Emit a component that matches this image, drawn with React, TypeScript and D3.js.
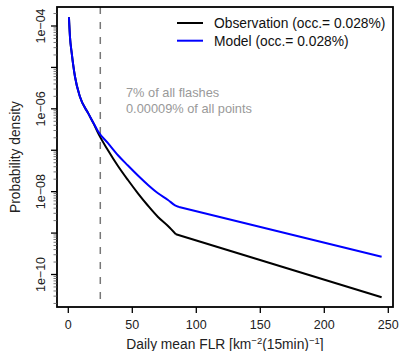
import React from "react";
import * as d3 from "d3";

const obsX = [0.5, 1.3, 2.7, 5.2, 9.1, 15.6, 20.0, 23.2, 31.0, 38.8, 46.6, 54.4, 62.3, 70.1, 77.9, 84.1, 244.8];
const obsY = [1.62e-4, 5.5e-5, 2.19e-5, 6.03e-6, 1.95e-6, 7.76e-7, 4.27e-7, 2.63e-7, 1.0e-7, 4.17e-8, 1.91e-8, 9.12e-9, 4.57e-9, 2.45e-9, 1.48e-9, 9.33e-10, 2.82e-11];

const modX = [0.5, 1.3, 2.7, 5.2, 9.1, 15.6, 20.0, 23.2, 31.0, 38.8, 46.6, 54.4, 62.3, 70.1, 77.9, 83.4, 86.5, 244.8];
const modY = [1.62e-4, 5.5e-5, 2.19e-5, 6.03e-6, 1.95e-6, 7.76e-7, 4.37e-7, 2.88e-7, 1.48e-7, 7.59e-8, 4.27e-8, 2.45e-8, 1.45e-8, 9.12e-9, 6.31e-9, 4.68e-9, 4.27e-9, 2.69e-10];

const xTicks = [0, 50, 100, 150, 200, 250];
const yMajor = [1e-4, 1e-5, 1e-6, 1e-7, 1e-8, 1e-9, 1e-10];
const yLabeled = [1e-4, 1e-6, 1e-8, 1e-10];
const cutoff = 25;

const legendLabels = ["Observation (occ.= 0.028%)", "Model (occ.= 0.028%)"];
const legendColors = ["#000000", "#0000ff"];
const noteLines = ["7% of all flashes", "0.00009% of all points"];

const W = 400, H = 351;
const L = 57, R = 393, T = 7, B = 307;

export default function App() {
  const x = d3.scaleLinear().domain([0, 250]).range([68.3, 388.3]);
  const y = d3.scaleLog().domain([1e-4, 1e-10]).range([26, 274.5]);

  const kneeIdx = (xs: number[]) => xs.length - 2;
  const headLine = d3.line<[number, number]>().x(d => x(d[0])).y(d => y(d[1])).curve(d3.curveMonotoneX);
  const tailLine = d3.line<[number, number]>().x(d => x(d[0])).y(d => y(d[1]));

  const series = [
    { xs: obsX, ys: obsY, color: legendColors[0] },
    { xs: modX, ys: modY, color: legendColors[1] },
  ];

  const minor: number[] = [];
  for (let e = -11; e <= -4; e++) {
    for (let m = 2; m <= 9; m++) {
      const v = m * Math.pow(10, e);
      const py = y(v);
      if (py >= T && py <= B) minor.push(v);
    }
  }

  const fam = "'Liberation Sans', Arial, Helvetica, sans-serif";
  const fmt = (v: number) => {
    const e = Math.round(Math.log10(v));
    return "1e\u2212" + String(-e).padStart(2, "0");
  };

  return (
    <svg width={W} height={H} style={{ position: "absolute", left: 0, top: 0, background: "#fff" }} fontFamily={fam}>
      <rect x={0} y={0} width={W} height={H} fill="#fff" />
      <line x1={x(cutoff)} x2={x(cutoff)} y1={T} y2={B} stroke="#777" strokeWidth={1.5} strokeDasharray="7,8" />
      {series.map((s, i) => {
        const pts: [number, number][] = s.xs.map((v, j) => [v, s.ys[j]]);
        const k = kneeIdx(s.xs);
        return (
          <g key={i}>
            <path d={headLine(pts.slice(0, k + 1)) || ""} fill="none" stroke={s.color} strokeWidth={2} strokeLinejoin="round" />
            <path d={tailLine(pts.slice(k)) || ""} fill="none" stroke={s.color} strokeWidth={2} strokeLinejoin="round" />
          </g>
        );
      })}
      <rect x={L} y={T} width={R - L} height={B - T} fill="none" stroke="#000" strokeWidth={1.8} />
      {xTicks.map(t => (
        <g key={t}>
          <line x1={x(t)} x2={x(t)} y1={B} y2={B + 6} stroke="#000" strokeWidth={1.3} />
          <text x={x(t)} y={328.5} textAnchor="middle" fontSize={12.5} fill="#222">{t}</text>
        </g>
      ))}
      {yMajor.map(v => (
        <line key={v} x1={L - 6} x2={L} y1={y(v)} y2={y(v)} stroke="#000" strokeWidth={1.3} />
      ))}
      {minor.map(v => (
        <line key={"m" + v} x1={L - 3.5} x2={L} y1={y(v)} y2={y(v)} stroke="#555" strokeWidth={0.8} />
      ))}
      {yLabeled.map(v => (
        <text key={"l" + v} transform={`translate(44.5,${y(v)}) rotate(-90)`} textAnchor="middle" fontSize={12.5} fill="#222">{fmt(v)}</text>
      ))}
      <text transform={`translate(19.5,157) rotate(-90)`} textAnchor="middle" fontSize={13.8} fill="#222">Probability density</text>
      <text x={225} y={348.5} textAnchor="middle" fontSize={13.8} fill="#222">
        Daily mean FLR [km
        <tspan dy={-5} fontSize={9.5}>{"\u22122"}</tspan>
        <tspan dy={5}>(15min)</tspan>
        <tspan dy={-5} fontSize={9.5}>{"\u22121"}</tspan>
        <tspan dy={5}>]</tspan>
      </text>
      {legendLabels.map((lab, i) => (
        <g key={lab}>
          <line x1={177} x2={203} y1={23 + i * 17.7} y2={23 + i * 17.7} stroke={legendColors[i]} strokeWidth={2} />
          <text x={214} y={23 + i * 17.7} dy="0.35em" fontSize={13.8} fill="#111">{lab}</text>
        </g>
      ))}
      {noteLines.map((t, i) => (
        <text key={t} x={126} y={93 + i * 15.5} dy="0.35em" fontSize={12.8} fill="#999">{t}</text>
      ))}
    </svg>
  );
}
